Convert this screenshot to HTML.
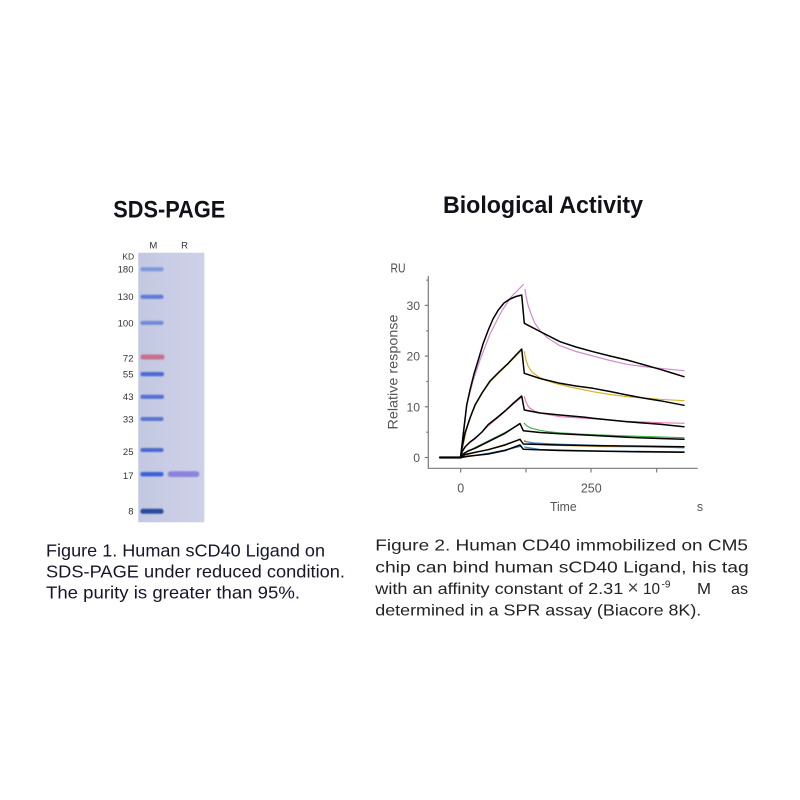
<!DOCTYPE html>
<html>
<head>
<meta charset="utf-8">
<style>
html,body{margin:0;padding:0;background:#fff;}
svg{display:block;}
</style>
</head>
<body>
<svg width="800" height="800" viewBox="0 0 800 800" xmlns="http://www.w3.org/2000/svg">
<rect width="800" height="800" fill="#ffffff"/>
<defs>
  <filter id="b" x="-20%" y="-100%" width="140%" height="300%"><feGaussianBlur stdDeviation="0.8"/></filter>
  <linearGradient id="gel" x1="0" y1="0" x2="1" y2="0">
    <stop offset="0" stop-color="#c3c8e2"/>
    <stop offset="0.5" stop-color="#c9cde5"/>
    <stop offset="1" stop-color="#ced1e6"/>
  </linearGradient>
</defs>

<!-- Titles -->
<text x="113.3" y="217.3" font-family="Liberation Sans, sans-serif" font-weight="bold" font-size="24" fill="#111118" textLength="112" lengthAdjust="spacingAndGlyphs">SDS-PAGE</text>
<text x="443" y="213" font-family="Liberation Sans, sans-serif" font-weight="bold" font-size="24" fill="#111118" textLength="200" lengthAdjust="spacingAndGlyphs">Biological Activity</text>

<!-- Gel -->
<g font-family="Liberation Sans, sans-serif" fill="#333">
  <text x="153.3" y="248.5" font-size="9.5" text-anchor="middle">M</text>
  <text x="184.5" y="248.5" font-size="9.5" text-anchor="middle">R</text>
  <text x="128.3" y="259.5" font-size="8.5" text-anchor="middle">KD</text>
  <g font-size="9.5" text-anchor="end">
    <text x="133.5" y="272.6">180</text>
    <text x="133.5" y="300">130</text>
    <text x="133.5" y="326.6">100</text>
    <text x="133.5" y="361.6">72</text>
    <text x="133.5" y="377.3">55</text>
    <text x="133.5" y="400">43</text>
    <text x="133.5" y="422.6">33</text>
    <text x="133.5" y="455">25</text>
    <text x="133.5" y="479">17</text>
    <text x="133.5" y="514.3">8</text>
  </g>
</g>
<rect x="138.3" y="252.7" width="66" height="269.6" fill="url(#gel)"/>
<g filter="url(#b)">
  <rect x="140.5" y="267.3" width="23" height="4" rx="2" fill="#7e95dc"/>
  <rect x="140.5" y="294.7" width="23" height="4.2" rx="2" fill="#5d7ad8"/>
  <rect x="140.5" y="320.9" width="23" height="4" rx="2" fill="#6f88d8"/>
  <rect x="140.5" y="354.5" width="24" height="5" rx="2.2" fill="#c86f8e"/>
  <rect x="140.5" y="372" width="23.5" height="4.2" rx="2" fill="#4b6ad6"/>
  <rect x="140.5" y="394.7" width="23.5" height="4.2" rx="2" fill="#5570d6"/>
  <rect x="140.5" y="417" width="23" height="4" rx="2" fill="#5a74d0"/>
  <rect x="140.5" y="448" width="23" height="4" rx="2" fill="#4c68cc"/>
  <rect x="140.5" y="472" width="23" height="4.4" rx="2" fill="#3a60d8"/>
  <rect x="140.5" y="508.8" width="23" height="5" rx="2.2" fill="#2c4a9c"/>
  <rect x="167.8" y="471.2" width="31.5" height="5.8" rx="2.8" fill="#8a82dc"/>
</g>

<!-- Caption 1 -->
<g font-family="Liberation Sans, sans-serif" font-size="17.5" fill="#16162a">
  <text x="46" y="556.7" textLength="279" lengthAdjust="spacingAndGlyphs">Figure 1. Human sCD40 Ligand on</text>
  <text x="46" y="577.7" textLength="299" lengthAdjust="spacingAndGlyphs">SDS-PAGE under reduced condition.</text>
  <text x="46" y="598.3" textLength="254" lengthAdjust="spacingAndGlyphs">The purity is greater than 95%.</text>
</g>

<!-- Caption 2 -->
<g font-family="Liberation Sans, sans-serif" font-size="15.8" fill="#222">
  <text x="375.3" y="550.7" textLength="372.7" lengthAdjust="spacingAndGlyphs">Figure 2. Human CD40 immobilized on CM5</text>
  <text x="375.3" y="572.3" textLength="373.4" lengthAdjust="spacingAndGlyphs">chip can bind human sCD40 Ligand, his tag</text>
  <text x="375.3" y="594" textLength="248" lengthAdjust="spacingAndGlyphs">with an affinity constant of 2.31</text>
  <text x="633" y="594" font-size="19" text-anchor="middle" fill="#444">×</text>
  <text x="643" y="594" textLength="17" lengthAdjust="spacingAndGlyphs">10</text>
  <text x="661.5" y="587.5" font-size="10">-9</text>
  <text x="697" y="594" textLength="14" lengthAdjust="spacingAndGlyphs">M</text>
  <text x="748" y="594" text-anchor="end" textLength="17" lengthAdjust="spacingAndGlyphs">as</text>
  <text x="375.3" y="615.7" textLength="326" lengthAdjust="spacingAndGlyphs">determined in a SPR assay (Biacore 8K).</text>
</g>

<!-- Chart axes -->
<g stroke="#7a7a7a" stroke-width="1.2" fill="none">
  <line x1="428.3" y1="276" x2="428.3" y2="468.3"/>
  <line x1="427.7" y1="468.3" x2="697.7" y2="468.3"/>
  <line x1="424.8" y1="457.5" x2="428.3" y2="457.5"/>
  <line x1="424.8" y1="406.8" x2="428.3" y2="406.8"/>
  <line x1="424.8" y1="356.1" x2="428.3" y2="356.1"/>
  <line x1="424.8" y1="305.4" x2="428.3" y2="305.4"/>
  <line x1="426.3" y1="432.2" x2="428.3" y2="432.2"/>
  <line x1="426.3" y1="381.5" x2="428.3" y2="381.5"/>
  <line x1="426.3" y1="330.8" x2="428.3" y2="330.8"/>
  <line x1="426.3" y1="280.1" x2="428.3" y2="280.1"/>
  <line x1="460.7" y1="468.3" x2="460.7" y2="472.5"/>
  <line x1="526" y1="468.3" x2="526" y2="472.5"/>
  <line x1="591" y1="468.3" x2="591" y2="472.5"/>
  <line x1="656.7" y1="468.3" x2="656.7" y2="472.5"/>
</g>
<g font-family="Liberation Sans, sans-serif" fill="#555">
  <text x="390.5" y="272.5" font-size="13" fill="#4a4a4a" textLength="15" lengthAdjust="spacingAndGlyphs">RU</text>
  <g font-size="12.2" text-anchor="end">
    <text x="420" y="462">0</text>
    <text x="420" y="411.3">10</text>
    <text x="420" y="360.6">20</text>
    <text x="420" y="309.9">30</text>
  </g>
  <g font-size="12.5" text-anchor="middle">
    <text x="460.7" y="492.3">0</text>
    <text x="591.3" y="492.3">250</text>
    <text x="563.3" y="511" textLength="26.7" lengthAdjust="spacingAndGlyphs">Time</text>
    <text x="700" y="511">s</text>
  </g>
  <text x="0" y="0" font-size="13.5" text-anchor="middle" transform="translate(397.5,372) rotate(-90)" textLength="115" lengthAdjust="spacingAndGlyphs">Relative response</text>
</g>

<!-- Colored data curves -->
<g fill="none" stroke-width="1.2" stroke-linejoin="round" stroke-linecap="round">
  <polyline stroke="#d28ccd" points="460.5,457.5 463,438 467,404 473,381 480,360 490,334 501.7,311 512,296 518,290 523.3,284.5"/>
  <polyline stroke="#d28ccd" points="525,289.3 526,296 528,305 531,314 535,323.5 540,330.5 548,338.3 560,345.7 576,351.5 593,356 610,360.5 627,364.3 643,366.5 660,368.3 684,370.7"/>
  <polyline stroke="#d8b428" points="460.5,457.5 463,446 466,432 471,416 476,404 483,392 490,382 500,372 508,364 515,357 521.5,350.5"/>
  <polyline stroke="#d8b428" points="524.3,351.7 526,360 528.3,366.7 532,372 538.3,376.7 545,380 555,383.3 570,387 585,390 593,391.7 610,394.5 627,396.7 643,398 660,399.3 684,400.7"/>
  <polyline stroke="#ea7cb4" points="460.5,457.5 463,450 468,444 475,439 488,426 505,411.5 521.5,397"/>
  <polyline stroke="#ea7cb4" points="524.3,396.7 526,402 528,406 530,408.3 535,411.3 541.7,413.3 560,416.7 585,418.3 593,418.8 627,421.3 660,422.7 684,423.3"/>
  <polyline stroke="#4cae54" points="460.5,457.5 465,453 475,447.5 488,441 505,432.5 520,424"/>
  <polyline stroke="#4cae54" points="524.3,423.3 527,426 531.7,428.3 540,430.3 548.3,431.7 560,432.8 585,434.3 627,436 660,437 684,437.7"/>
  <polyline stroke="#e8a23c" points="460.5,457.5 470,454 488,449.5 505,444.5 520,439.5"/>
  <polyline stroke="#e8a23c" points="524.5,440.5 530,443 545,445 600,446.5 684,447.5"/>
  <polyline stroke="#4a90d0" points="524.5,441.5 535,443 560,444.2 620,446 684,447.8"/>
  <polyline stroke="#3d8fc0" points="460.5,457.5 475,455.5 490,453 505,450 520,446.5"/>
  <polyline stroke="#3d8fc0" points="524.5,447 540,449.5 600,451 684,451.8"/>
</g>

<!-- Black fit curves -->
<g fill="none" stroke="#000" stroke-width="1.5" stroke-linejoin="round" stroke-linecap="round">
  <line x1="440" y1="457.5" x2="461" y2="457.5" stroke-width="2.2"/>
  <polyline points="460.5,457.5 462,445 463.5,432 466.7,405 470,390 474,374 478.3,360 483,344 488.3,330 493,319 498.3,310 504,303 510,299 516,296.5 521.7,295 524.3,323.3 540,331.5 560,341.7 576,347 593,351.7 610,356 627,360 643,364.5 660,369.3 672,373 684,376.7"/>
  <polyline points="460.5,457.5 462,448 465,433 470,418 475,405 482,393 490,381 500,371 508.3,363.3 515,356 521.7,349 524.3,373.3 540,378.5 560,383.3 576,386 593,388.3 610,391.5 627,395 643,398 660,400.7 684,405.3"/>
  <polyline points="460.5,457.5 462,452 465,447 470,442 475,438.3 482,432 488.3,424.5 496,418.5 505,411 513,403.5 521.7,396 524.3,410 540,413 560,415 585,417.3 593,418.3 627,421.7 660,424.3 684,426.7"/>
  <polyline points="460.5,457.5 463,454 468,451 475,448.3 488.3,441.7 505,433.3 520,423.5 523.3,430.7 540,432.5 560,433.8 585,435 627,437.3 660,438.5 684,439.3"/>
  <polyline points="460.5,457.5 465,454.5 475,452.3 488.3,449.7 505,445 520,439.3 523.3,444 560,445 600,445.8 684,446.7"/>
  <polyline points="460.5,457.5 470,456 488.3,454 505,450.5 520,445 523.3,449.3 560,450.5 620,451.5 684,452.3"/>
</g>
</svg>
</body>
</html>
